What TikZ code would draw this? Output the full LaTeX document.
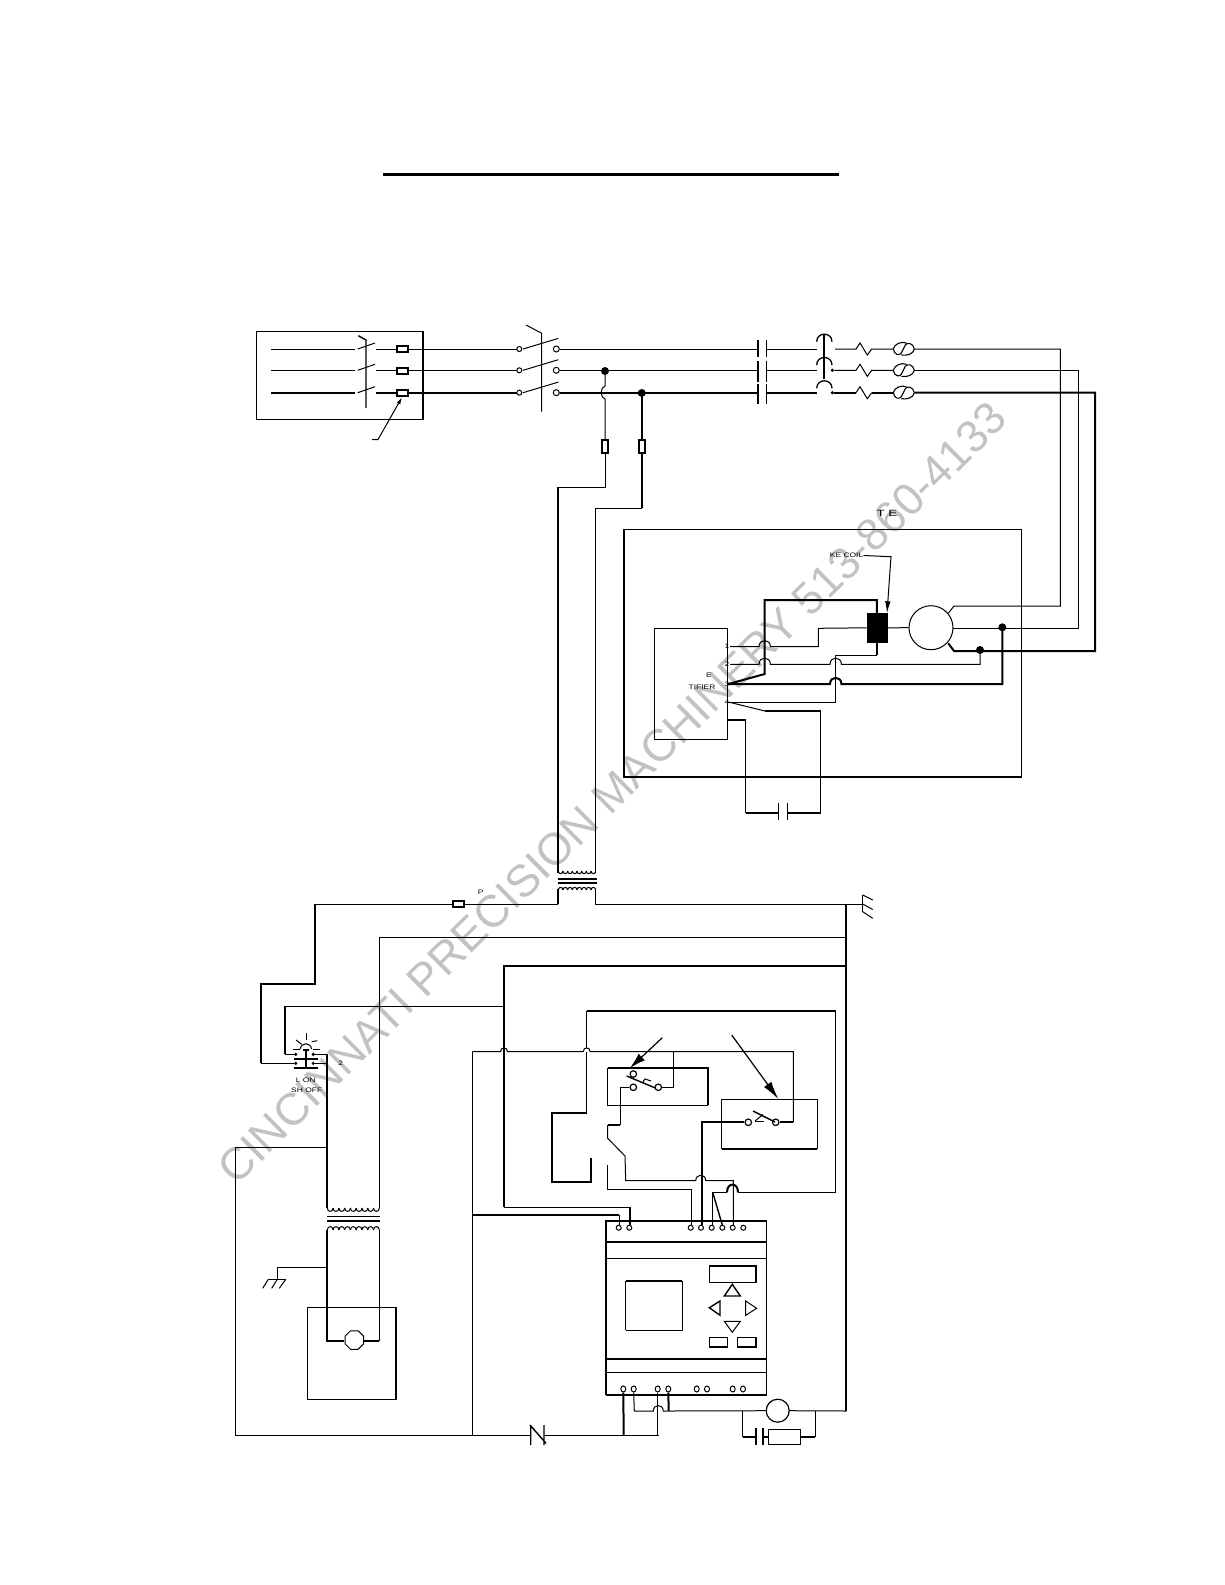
\documentclass[tikz,border=0pt]{standalone}
\usepackage{fontspec}
\setmainfont{Liberation Sans}
\usetikzlibrary{arrows.meta,shapes.geometric}
\newcommand{\hp}[3]{-- (#1-#3,#2) .. controls (#1-#3,#2-1.45*#3) and (#1+#3,#2-1.45*#3) .. (#1+#3,#2)}
\newcommand{\coilrow}[5]{%
  \pgfmathsetmacro{\cst}{(#2-#1)/#4}%
  \foreach \k in {1,...,#4}{%
    \pgfmathsetmacro{\ca}{#1+(\k-1)*\cst}%
    \pgfmathsetmacro{\cb}{\ca+\cst}%
    \draw[line width=1pt] (\ca,#3) .. controls (\ca,#3+#5) and (\cb,#3+#5) .. (\cb,#3);
  }}
\newcommand{\acsym}[2]{%
  \draw[wthin,line width=1.1pt] (#1+13,#2-6) .. controls (#1+8,#2-8) and (#1+1,#2-5) .. (#1,#2)
     .. controls (#1+1,#2+6) and (#1+6,#2+7) .. (#1+8,#2+4) -- (#1+12,#2-4)
     .. controls (#1+14,#2-7) and (#1+20,#2-6) .. (#1+21,#2)
     .. controls (#1+20,#2+5) and (#1+14,#2+7) .. (#1+8,#2+6);}
\newcommand{\zig}[1]{(856,#1) -- (860,#1-6) -- (867.3,#1+6) -- (871.7,#1)}
\begin{document}
\begin{tikzpicture}[x=1pt,y=-1pt,
  wthin/.style={line width=1pt,line join=miter},
  wthick/.style={line width=2pt,line join=miter},
  wmed/.style={line width=1.4pt},
  term/.style={circle,draw,line width=1pt,fill=white,inner sep=0pt,minimum size=5pt},
  bigterm/.style={circle,draw,line width=1.2pt,fill=white,inner sep=0pt,minimum size=6.5pt},
  fusebox/.style={draw,line width=2pt,fill=white},
  jdot/.style={circle,fill=black,inner sep=0pt,minimum size=8pt},
  sdot/.style={circle,fill=black,inner sep=0pt,minimum size=3.5pt},
  tiny/.style={font=\fontsize{6.5}{7}\selectfont,inner sep=0pt,xscale=1.3,transform shape},
  wm/.style={text=black!24,font=\fontsize{45}{50}\selectfont,inner sep=0pt,rotate=44.7}
]
\useasboundingbox (0,0) rectangle (1225,1585);
\fill[white] (0,0) rectangle (1225,1585);
\node[wm] (watermark) at (612,793) {CINCINNATI PRECISION MACHINERY 513-860-4133};

% title rule
\draw[line width=3pt] (383,174.5) -- (839,174.5);

% disconnect box
\draw[wmed] (256.3,331.7) rectangle (423,419.7);
\foreach \yy/\th in {349/wthin,370.3/wthin,392.7/wthick}{
  \draw[\th] (271,\yy) -- (355,\yy);
  \draw[\th] (376,\yy) -- (519,\yy);
  \draw[wthin] (357.7,\yy) -- (375,\yy-6);
  \draw[wthin] (523,\yy) -- (558.3,\yy-10.6);
  \node[term] at (519.3,\yy) {};
  \node[term,minimum size=6pt] at (556.3,\yy) {};
  \draw[\th] (559.5,\yy) -- (758.3,\yy);
  \draw[\th] (766.7,\yy) -- (816.7,\yy);
}
\draw[wmed] (358.3,335.7) -- (366,340) -- (366,408);
\draw[wthin] (526,325) -- (541.7,333.3) -- (541.7,411.7);
\node[fusebox,minimum width=11pt,minimum height=6pt,inner sep=0pt] (f1) at (402,348.7) {};
\node[fusebox,minimum width=11pt,minimum height=6pt,inner sep=0pt] (f2) at (402,371) {};
\node[fusebox,minimum width=11pt,minimum height=6pt,inner sep=0pt] (f3) at (402,393.3) {};
\coordinate (lead) at (378,439.5);
\draw[wthin,-{Latex[length=7pt,width=4pt]}] (372,439.5) -- (378,439.5) -- (f3.south);

% contactor plates
\foreach \ya/\yb in {340/357.3,360.7/381.7,384/404}{
  \draw[wthick] (758.3,\ya) -- (758.3,\yb);
  \draw[wthin] (766.7,\ya) -- (766.7,\yb);
}
% overload arcs
\draw[wthick] (824.3,334) -- (824.3,379.3);
\foreach \yy in {341.7,365,388.3}{
  \draw[line width=1.3pt] (816.7,\yy) .. controls (816.7,\yy-10) and (832,\yy-10) .. (832,\yy);
}
\node[sdot] (d2) at (832.3,370.3) {};
\node[sdot] (d3) at (832.3,392.7) {};
% heaters
\draw[wthin] (835,349) -- \zig{349} -- (893.3,349);
\draw[wthin] (d2) -- \zig{370.3} -- (893.3,370.3);
\draw[wthin] (d3) -- (856,392.7) -- (860,386.7) -- (867.3,398.7) -- (871.7,392.7);
\draw[wthick] (d3) -- (856,392.7);
\draw[wthick] (871.7,392.7) -- (893.3,392.7);
\acsym{893.3}{349}\acsym{893.3}{370.3}\acsym{893.3}{392.7}
\draw[wthin] (914.5,349) -- (1060.3,349) -- (1060.3,606) -- (954,606) -- (948.3,613.3);
\draw[wthin] (914.5,370.3) -- (1078.3,370.3) -- (1078.3,628.3) -- (953,628.3);
\draw[wthick] (914.5,392.7) -- (1095,392.7) -- (1095,651) -- (954,651) -- (948.3,643.3);

% feed to control transformer
\node[jdot] (j1) at (605,371) {};
\node[jdot] (j2) at (641.7,393) {};
\draw[wthin] (j1) -- (605,386) .. controls (600,387) and (600,398) .. (605,399) -- (605,439);
\node[fusebox,minimum width=6pt,minimum height=13pt,inner sep=0pt,line width=1.6pt] (f4) at (605,446.3) {};
\node[fusebox,minimum width=6pt,minimum height=13pt,inner sep=0pt,line width=1.6pt] (f5) at (641.7,446.3) {};
\draw[wthin] (f4) -- (605,487.3) -- (557.7,487.3);
\draw[wthick] (557.7,487.3) -- (557.7,873.3);
\draw[wthick] (j2) -- (f5);
\draw[wthick] (f5) -- (641.7,508.3);
\draw[wthin] (641.7,508.3) -- (595.7,508.3) -- (595.7,873.3);

% enclosure
\draw[wmed] (624,529.3) -- (1021.7,529.3) -- (1021.7,777);
\draw[wthick] (1021.7,777) -- (624,777) -- (624,529.3);
\node[font=\fontsize{9}{10}\selectfont,inner sep=0pt,xscale=1.5,transform shape] (lte) at (887,513) {T E};
\node[tiny,anchor=east] (lkc) at (863.5,555.5) {KE COIL};
% coil
\node[fill=black,draw=black,minimum width=20pt,minimum height=29pt,inner sep=0pt] (coil) at (876.8,627.8) {};
\draw[wthin,-{Latex[length=12pt,width=5.5pt]}] (lkc.east) -- (891,556.7) -- (887,613.3);
% motor
\node[circle,draw,line width=1pt,fill=white,minimum size=44pt,inner sep=0pt] (mot) at (931,627.7) {};
\draw[wthin] (coil.east) -- (mot.west);
% rectifier
\draw[wthin] (654,628.3) rectangle (727.7,739.3);
\node[tiny] (l1) at (727,646) {1};
\node[tiny] (l2) at (727,664.7) {2};
\node[tiny] (l3) at (727,684) {3};
\node[tiny] (l4) at (727,702) {4};
\node[tiny] (le) at (709,675) {E};
\node[tiny] (lt) at (702,687.5) {TIFIER};
\draw[wthin] (730,646.7) \hp{764.7}{646.7}{5.7} -- (818.3,646.7) -- (818.3,628.3) -- (coil.west);
\draw[wthick] (coil.north) -- (876.8,600) -- (764.7,600) -- (764.7,674) -- (728.3,684);
\draw[wthick] (coil.south) -- (876.8,655.3);
\draw[wthin] (876.8,655.3) -- (835.7,655.3) -- (835.7,702) -- (728.3,702);
\draw[wthin] (730,664.3) \hp{764.7}{664.3}{5.7} \hp{835.7}{664.3}{5.7} -- (980,664.3) -- (980,650);
\draw[wthick] (728.3,684) \hp{835.7}{684}{5.7} -- (1002.3,684) -- (1002.3,627.3);
\node[jdot] (j3) at (980,650) {};
\node[jdot] (j4) at (1002.3,627.3) {};
\draw[wthin] (728.3,702) -- (765,711);
\draw[wthick] (765,711) -- (820.7,711);
\draw[wthin] (820.7,711) -- (820.7,813.3);
\draw[wthick] (820.7,813.3) -- (787.3,813.3);
\draw[wthick] (727.7,720) -- (745.7,720);
\draw[wthin] (745.7,720) -- (745.7,813.3);
\draw[wthick] (745.7,813.3) -- (778.3,813.3);
\draw[wmed] (778.3,803) -- (778.3,820) (787.3,803) -- (787.3,820);

% upper transformer
\coilrow{558.3}{595.7}{871}{8}{3.5}
\draw[wthick] (558,879.3) -- (596.5,879.3) (558,883) -- (596.5,883);
\coilrow{558.3}{595.7}{890}{8}{-3.5}
\draw[wthick] (558.3,889) -- (558.3,904);
\draw[wthin] (558.3,904) -- (315,904);
\draw[wthin] (595.7,889) -- (595.7,904) -- (862.7,904);
\node[fusebox,minimum width=11pt,minimum height=6pt,inner sep=0pt] (f6) at (458.7,903.7) {};
\node[tiny] (lp) at (480.7,892.3) {P};
\draw[wthick] (315,904) -- (315,984) -- (260.7,984) -- (260.7,1063.3);
\draw[wthin] (260.7,1063.3) -- (294,1063.3);
% right ground
\draw[wthin] (862.7,895) -- (862.7,911.7);
\draw[wthin] (862.7,895) -- (872.7,900) (862.7,904) -- (872.7,909.5) (862.7,911.7) -- (872.7,918.3);
\draw[wthick] (845.7,904) -- (845.7,1411);
\draw[wthin] (845.7,937.3) -- (379.3,937.3) -- (379.3,1208);
\draw[wthick] (845.7,966) -- (504,966) -- (504,1207.3);
\draw[wthin] (504,1207.3) -- (630,1207.3);
\draw[wthick] (630,1207.3) -- (630,1225);
\draw[wthin] (285,1054.3) -- (285,1006) -- (503.3,1006);
\draw[wthick] (285,1006) -- (285,1054.3);
\draw[wthin] (285,1054.3) -- (295.7,1054.3);

% lamp / pushbutton
\draw[wthin] (306,1033.3) -- (306,1040);
\draw[wthin] (296,1040) -- (301.7,1044.3) (311.7,1041.7) -- (317.3,1040.7);
\draw[wthin] (292.7,1049) -- (300,1049) (313.3,1049) -- (320,1049);
\draw[wthin] (300,1049) .. controls (302,1042) and (310,1042) .. (311.7,1049);
\draw[wthick] (302.7,1050) -- (309.3,1050);
\draw[wthick] (306,1050) -- (306,1068);
\draw[wthick] (294,1059) -- (317.7,1059) (294,1068) -- (317.7,1068);
\foreach \xx/\yy in {295.7/1054.3,313.3/1054.3,295.7/1063.3,313.3/1063.3}{
  \node[sdot] at (\xx,\yy) {};
}
\draw[wthin] (313.3,1054.3) -- (327.3,1054.3);
\draw[wthin] (313.3,1063.3) -- (327.3,1063.3);
\draw[wthick] (327.3,1054.3) -- (327.3,1208);
\draw[wthin] (235.7,1147) -- (327.3,1147);
\draw[wthin] (235.7,1147) -- (235.7,1435.7);
\node[tiny] (l2b) at (340.7,1063.3) {2};
\node[tiny] (llon) at (305.7,1080.7) {L ON};
\node[tiny] (lshoff) at (306.7,1090.7) {SH OFF};

% lower transformer
\coilrow{327.3}{379.3}{1208}{9}{4.5}
\draw[wthin] (327,1216.7) -- (380,1216.7);
\draw[wthick] (327,1221) -- (380,1221);
\coilrow{327.3}{379.3}{1230}{9}{-4.5}
\draw[wthick] (327.3,1230) -- (327.3,1341) -- (344.3,1341);
\draw[wthin] (379.3,1230) -- (379.3,1341);
\draw[wthick] (379.3,1341) -- (364,1341);
\node[regular polygon,regular polygon sides=8,draw,line width=1pt,fill=white,minimum size=20pt,inner sep=0pt] (pump) at (354.3,1340) {};
\draw[wthin] (307.3,1307.7) -- (307.3,1399.3);
\draw[wmed] (307.3,1307.7) -- (396,1307.7) -- (396,1399.3) -- (307.3,1399.3);
% left ground
\draw[wthin] (327.3,1267.7) -- (277.3,1267.7) -- (277.3,1279.3);
\draw[wthin] (268.3,1279.3) -- (285.7,1279.3);
\draw[wthin] (268.3,1279.3) -- (262.7,1288.3) (277.3,1279.3) -- (271.7,1288.3) (285.7,1279.3) -- (279.3,1288.3);

% control wiring
\draw[wthin] (472.3,1051.7) \hp{504}{1051.7}{3.5} \hp{586.7}{1051.7}{3.5} -- (793.3,1051.7) -- (793.3,1122.3);
\draw[wthin] (472.3,1051.7) -- (472.3,1435.7);
\draw[wthick] (472.3,1215) -- (619.3,1215);
\draw[wthin] (619.3,1215) -- (619.3,1225);
\draw[wthin] (586.7,1051.7) -- (586.7,1112.7);
\draw[wthick] (586.7,1010.7) -- (835.7,1010.7);
\draw[wthin] (586.7,1010.7) -- (586.7,1048);
\draw[wthick] (586.7,1112.7) -- (551.7,1112.7) -- (551.7,1181.7) -- (591.3,1181.7) -- (591.3,1157.7);
\draw[wthin] (835.7,1010.7) -- (835.7,1192.3) -- (738,1192.3);
\draw[wthin] (727,1192.3) -- (712.7,1192.3) -- (712.7,1225);
\draw[wthick] (738,1192.3) .. controls (738,1182) and (727,1182) .. (727,1192.3);

% box 1 with switch
\draw[wthin] (607.7,1068) -- (607.7,1105.3) -- (707.7,1105.3);
\draw[wthick] (607.7,1068) -- (707.7,1068) -- (707.7,1105.3);
\node[bigterm] (s1a) at (633.3,1074) {};
\node[bigterm] (s1b) at (633.3,1087.3) {};
\node[bigterm] (s1c) at (658.3,1087.3) {};
\draw[wmed] (626.7,1076) -- (656,1088.3);
\draw[wthin] (643,1082) -- (645,1079) -- (651,1081);
\draw[wthin] (s1c) -- (673.3,1087.3) -- (673.3,1051.7);
\draw[line width=1.2pt,-{Latex[length=16pt,width=9pt]}] (662.3,1037.7) -- (630,1068);
% box 2 with switch
\draw[wthin] (721.7,1148.7) -- (721.7,1099.3) -- (817.3,1099.3) -- (817.3,1148.7);
\draw[wthick] (721.7,1148.7) -- (817.3,1148.7);
\node[bigterm] (s2a) at (748.3,1122.3) {};
\node[bigterm] (s2b) at (775.7,1122.3) {};
\draw[wmed] (753,1111) -- (775,1122);
\draw[wthin] (755,1121) -- (763,1114.5);
\draw[wthin] (755,1121) -- (764,1121);
\draw[wthick] (s2a) -- (702,1122.3) -- (702,1225);
\draw[wthick] (s2b) -- (793.3,1122.3);
\draw[line width=1.2pt,-{Latex[length=18pt,width=9pt]}] (731.7,1035) -- (778.3,1099);

\draw[wthin] (s1b) -- (620,1087.3) -- (620,1125);
\draw[wthick] (620,1125) -- (607.7,1125);
\draw[wthin] (607.7,1125) -- (607.7,1138.3) -- (625,1156) -- (625.7,1180.7) \hp{700.7}{1180.7}{5} -- (733.3,1180.7) -- (733.3,1225);
\draw[wthin] (607.7,1165) -- (607.7,1189.3) -- (691.7,1189.3) -- (691.7,1225);
\draw[wmed] (712.7,1192.3) -- (722.3,1225);

% PLC
\draw[wthin] (606,1220.7) -- (766.7,1220.7) (766.7,1220.7) -- (766.7,1395);
\draw[wthick] (606,1395) -- (606,1220.7) -- (766.7,1220.7);
\draw[wthick] (606,1395) -- (766.7,1395);
\draw[wthick] (606,1241.7) -- (766.7,1241.7);
\draw[wthin] (606,1258.3) -- (766.7,1258.3);
\draw[wthick] (606,1359) -- (767,1359);
\draw[wthin] (606,1372.3) -- (767,1372.3);
\draw[wthin] (625.7,1330.3) -- (682.3,1330.3) -- (682.3,1280.7);
\draw[wthin] (625.7,1330.3) -- (625.7,1280.7);
\draw[wthick] (625.7,1280.7) -- (682.3,1280.7);
\draw[wthin] (709.3,1282.3) -- (709.3,1266) (756,1266) -- (756,1282.3);
\draw[wmed] (709.3,1266) -- (756,1266) -- (756,1282.3) -- (709.3,1282.3) -- cycle;
\draw[wmed] (724.3,1296) -- (740.3,1296) -- (732.3,1284.3) -- cycle;
\draw[wmed] (709.3,1307.7) -- (720,1301) -- (720,1315.3) -- cycle;
\draw[wthin] (745.7,1301) -- (745.7,1315.3) -- (756.7,1308.3) -- cycle;
\draw[wthin] (724.3,1321.3) -- (740.3,1321.3) -- (732.3,1332.3) -- cycle;
\draw[wmed] (709.3,1337.7) rectangle (727.7,1347);
\draw[wmed] (737.7,1337.7) rectangle (756,1347);
\foreach \nn/\xx in {ta/618.7,tb/629.3,tc/690.7,td/701,te/711.7,tf/722.3,tg/732.7,th/743.3}{
  \node[term] (\nn) at (\xx,1227.7) {};
}
\foreach \nn/\xx in {ba/623.3,bb/633.7,bc/657.7,bd/668.3,be/696.7,bf/707,bg/732.7,bh/743}{
  \node[term,ellipse,minimum width=5pt,minimum height=6pt] (\nn) at (\xx,1389) {};
}
\draw[wthick] (ba.south) -- (623.7,1435.7);
\draw[wthin] (bb.south) -- (634.3,1411) \hp{658.3}{1411}{5} -- (668.3,1411);
\draw[wthick] (bd.south) -- (668.7,1411);
\draw[wthin] (bc.south) -- (657.7,1435.7);
\node[circle,draw,line width=1.2pt,fill=white,minimum size=23pt,inner sep=0pt] (hm) at (777.7,1410.7) {};
\draw[wthin] (668.7,1411) -- (hm.west);
\draw[wthin] (hm.east) -- (846.7,1411);
% bottom rail
\draw[wthin] (235.7,1435.7) -- (530,1435.7);
\draw[wthin] (544,1435.7) -- (623.7,1435.7) -- (659,1435.7);
\draw[wmed] (530.7,1425.7) -- (530.7,1445) (530,1425) -- (546,1443.3) (544,1425) -- (544,1445);
% capacitor/resistor branch
\draw[wthin] (742.7,1411) -- (742.7,1436.7);
\draw[wthick] (742.7,1436.7) -- (755.7,1436.7);
\draw[wthick] (756,1428.3) -- (756,1445) (762.7,1428.3) -- (762.7,1445);
\draw[wthick] (762.7,1436.7) -- (768.3,1436.7);
\draw[wthin] (768.3,1429.3) rectangle (800,1444.3);
\draw[wthick] (800,1436.7) -- (815,1436.7);
\draw[wthin] (815,1436.7) -- (815,1411);
\end{tikzpicture}
\end{document}
